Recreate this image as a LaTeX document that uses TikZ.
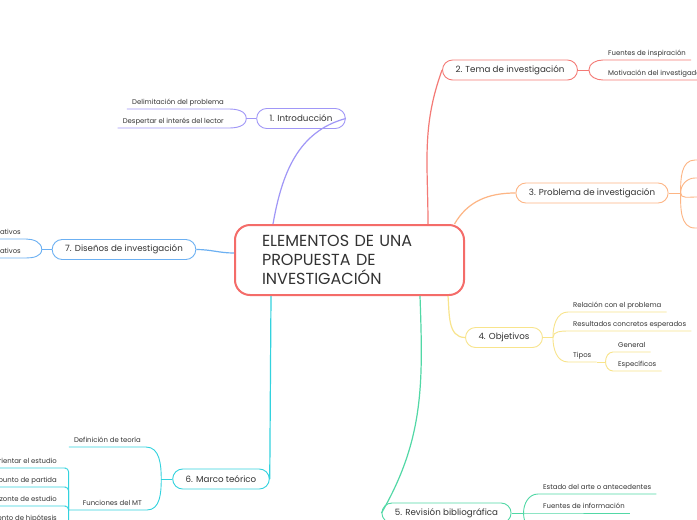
\documentclass[tikz,border=0pt]{standalone}
\usepackage{fontspec}
\setmainfont{Poppins}
\usetikzlibrary{positioning, calc}
\definecolor{mmred}{HTML}{F46C69}
\definecolor{mmpurple}{HTML}{A097F7}
\definecolor{mmcoral}{HTML}{F47A76}
\definecolor{mmorange}{HTML}{FDB584}
\definecolor{mmyellow}{HTML}{F8E48C}
\definecolor{mmgreen}{HTML}{52D8A6}
\definecolor{mmcyan}{HTML}{33D2DE}
\definecolor{mmblue}{HTML}{6CB0F2}
\definecolor{mmtext}{HTML}{333333}

\begin{document}
\begin{tikzpicture}[x=1pt, y=-1pt,
    central/.style={draw=mmred, line width=2pt, rounded corners=15pt, minimum width=229pt,
                    minimum height=70pt, text width=175pt, align=left,
                    font=\fontsize{16}{19}\selectfont, text=mmtext},
    branch/.style={draw=#1, rounded corners=10pt, line width=0.9pt, minimum height=20pt,
                   inner xsep=13pt, font=\fontsize{8.7}{10}\selectfont, text=mmtext},
    leaf/.style={inner xsep=5pt, inner ysep=2pt, text depth=2.5pt,
                 font=\fontsize{6.9}{8}\selectfont, text=mmtext},
    link/.style={draw=#1, line width=1.2pt},
    twig/.style={draw=#1, line width=0.9pt}
  ]
  \clip (0,0) rectangle (697,520);
  \fill[white] (0,0) rectangle (697,520);

  % Centre and main branches
  \node[central] (c) at (349.5,260) {ELEMENTOS DE UNA\\PROPUESTA DE\\INVESTIGACIÓN};
  \node[branch=mmpurple] (intro) at (301,118.5) {1. Introducción};
  \node[branch=mmcoral]  (tema)  at (510,70)    {2. Tema de investigación};
  \node[branch=mmorange] (prob)  at (592,193)   {3. Problema de investigación};
  \node[branch=mmyellow] (obj)   at (504,337.5) {4. Objetivos};
  \node[branch=mmgreen]  (rev)   at (446.5,513) {5. Revisión bibliográfica};
  \node[branch=mmcyan]   (marco) at (221,479)   {6. Marco teórico};
  \node[branch=mmblue]   (dis)   at (124,249.5) {7. Diseños de investigación};

  \draw[link=mmpurple] ([xshift=-76.5pt]c.north) to[out=80, in=195] (intro.east);
  \draw[link=mmcoral]  ([xshift=78.5pt]c.north) to[out=90, in=250] (tema.west);
  \draw[link=mmorange] ([xshift=105pt]c.north) to[out=60, in=180] (prob.west);
  \draw[link=mmyellow] ([xshift=98.5pt]c.south) to[out=-85, in=180] (obj.west);
  \draw[link=mmgreen]  ([xshift=70.5pt]c.south) to[out=-88, in=60] (rev.west);
  \draw[link=mmcyan]   ([xshift=-78.5pt]c.south) -- (marco.east);
  \draw[link=mmblue]   ([yshift=7pt]c.west) to[out=180, in=0] (dis.east);

  % 1. Introduccion
  \coordinate (ji) at ($(intro.west)+(-10,0)$);
  \node[leaf, anchor=south east] (delim) at (229,109) {Delimitación del problema};
  \node[leaf, anchor=south east] (despe) at (229,128) {Despertar el interés del lector};
  \draw[twig=mmpurple] (intro.west) -- (ji);
  \draw[twig=mmpurple] (ji) to[out=90, in=0] (delim.south east) -- (delim.south west);
  \draw[twig=mmpurple] (ji) to[out=-90, in=0] (despe.south east) -- (despe.south west);

  % 2. Tema
  \coordinate (jt) at ($(tema.east)+(11,0)$);
  \node[leaf, anchor=south west] (fuent) at (603,60) {Fuentes de inspiración};
  \node[leaf, anchor=south west] (motiv) at (603,80) {Motivación del investigador};
  \draw[twig=mmcoral] (tema.east) -- (jt);
  \draw[twig=mmcoral] (jt) to[out=90, in=180] (fuent.south west) -- (fuent.south east);
  \draw[twig=mmcoral] (jt) to[out=-90, in=180] (motiv.south west) -- (motiv.south east);

  % 3. Problema
  \coordinate (jp) at ($(prob.east)+(12,0)$);
  \draw[twig=mmorange] (prob.east) -- (jp);
  \foreach \y/\o [count=\i] in {160/90, 178/90, 197/-90, 228/-90} {
    \coordinate (p\i) at (695,\y);
    \draw[twig=mmorange] (jp) to[out=\o, in=180] (p\i) -- ++(12,0);
  }

  % 4. Objetivos
  \coordinate (jo) at ($(obj.east)+(10,0)$);
  \node[leaf, anchor=south west] (rel)   at (568,312) {Relación con el problema};
  \node[leaf, anchor=south west] (res)   at (568,331) {Resultados concretos esperados};
  \node[leaf, anchor=south west] (tipos) at (568,362) {Tipos};
  \draw[twig=mmyellow] (obj.east) -- (jo);
  \foreach \n/\o in {rel/90, res/90, tipos/-90}
    \draw[twig=mmyellow] (jo) to[out=\o, in=180] (\n.south west) -- (\n.south east);
  \coordinate (jy) at ($(tipos.south east)+(9,0)$);
  \node[leaf, anchor=south west] (gener) at (613,352) {General};
  \node[leaf, anchor=south west] (espec) at (613,371) {Específicos};
  \draw[twig=mmyellow] (tipos.south east) -- (jy);
  \draw[twig=mmyellow] (jy) to[out=90, in=180] (gener.south west) -- (gener.south east);
  \draw[twig=mmyellow] (jy) to[out=-90, in=180] (espec.south west) -- (espec.south east);

  % 5. Revision
  \coordinate (jr) at ($(rev.east)+(12,0)$);
  \coordinate (rz) at (540,534);
  \node[leaf, anchor=south west] (estad) at (538,494) {Estado del arte o antecedentes};
  \node[leaf, anchor=south west] (finfo) at (538,513) {Fuentes de información};
  \draw[twig=mmgreen] (rev.east) -- (jr);
  \draw[twig=mmgreen] (jr) to[out=90, in=180] (estad.south west) -- (estad.south east);
  \draw[twig=mmgreen] (jr) -- (finfo.south west) -- (finfo.south east);
  \draw[twig=mmgreen] (jr) to[out=-90, in=180] (rz);

  % 6. Marco teorico
  \coordinate (jm) at ($(marco.west)+(-11,0)$);
  \node[leaf, anchor=south east] (defi) at (146,447) {Definición de teoría};
  \node[leaf, anchor=south east] (func) at (147,510) {Funciones del MT};
  \coordinate (jf) at ($(func.south west)+(-9,0)$);
  \draw[twig=mmcyan] (marco.west) -- (jm);
  \draw[twig=mmcyan] (jm) to[out=90, in=0] (defi.south east) -- (defi.south west);
  \draw[twig=mmcyan] (jm) to[out=-90, in=0] (func.south east) -- (func.south west) -- (jf);
  \foreach \t/\y [count=\i] in {rientar el estudio/468, punto de partida/487,
                                 izonte de estudio/506, ento de hipótesis/525} {
    \node[leaf, anchor=south east] (mt\i) at (62,\y) {\t};
    \draw[twig=mmcyan, rounded corners=4pt] (jf) |- (mt\i.south east) -- (mt\i.south west);
  }

  % 7. Disenos
  \coordinate (jd) at ($(dis.west)+(-10,0)$);
  \node[leaf, anchor=south east] (dz1) at (26,239) {ativos};
  \node[leaf, anchor=south east] (dz2) at (26,258) {ativos};
  \draw[twig=mmblue] (dis.west) -- (jd);
  \draw[twig=mmblue] (jd) to[out=90, in=0] (dz1.south east) -- (dz1.south west);
  \draw[twig=mmblue] (jd) to[out=-90, in=0] (dz2.south east) -- (dz2.south west);
\end{tikzpicture}
\end{document}
